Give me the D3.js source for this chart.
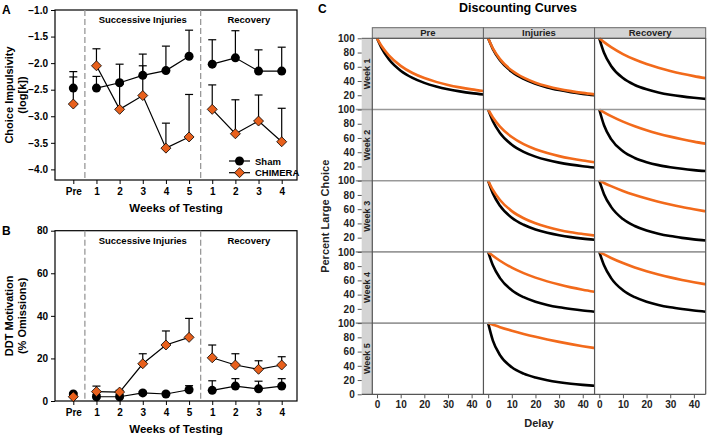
<!DOCTYPE html>
<html>
<head>
<meta charset="utf-8">
<script src="https://cdn.jsdelivr.net/npm/d3@7"></script>
<style>
  body { margin: 0; background: #fff; }
  svg { font-family: "Liberation Sans", Arial, sans-serif; font-weight: bold; }
</style>
</head>
<body>
<svg width="708" height="437"></svg>
<script>
// weeks of testing (pre, 5 injury weeks, 4 recovery weeks)
var weekLabels = ['Pre', '1', '2', '3', '4', '5', '1', '2', '3', '4'];
var weekGroups = [[0], [1, 2, 3, 4, 5], [6, 7, 8, 9]];

// panel A: choice impulsivity, log(k), mean and top of error bar
var shamImp = [-2.47, -2.47, -2.37, -2.23, -2.14, -1.87, -2.02, -1.90, -2.15, -2.15];
var shamImpHi = [-2.16, -2.25, -2.02, -1.83, -1.68, -1.38, -1.56, -1.39, -1.75, -1.70];
var chimImp = [-2.77, -2.05, -2.87, -2.61, -3.60, -3.39, -2.87, -3.33, -3.09, -3.48];
var chimImpHi = [-2.26, -1.73, -2.40, -2.05, -3.13, -2.59, -2.41, -2.69, -2.60, -2.85];
var impTicks = [-4.0, -3.5, -3.0, -2.5, -2.0, -1.5, -1.0];

// panel B: % omissions
var shamMot = [3.3, 2.0, 2.0, 3.8, 3.3, 5.3, 5.0, 7.0, 5.7, 7.0];
var shamMotHi = [3.8, 3.0, 3.0, 4.5, 4.0, 7.2, 9.5, 10.5, 9.3, 10.5];
var chimMot = [2.0, 4.4, 4.2, 17.5, 26.3, 29.9, 20.3, 16.9, 14.9, 16.9];
var chimMotHi = [2.5, 7.0, 5.0, 22.2, 32.9, 38.8, 26.3, 22.2, 18.9, 20.8];
var motTicks = [0, 20, 40, 60, 80];

// panel C: discounting curves (percent large choice vs delay)
var cCols = ['Pre', 'Injuries', 'Recovery'];
var cRows = ['Week 1', 'Week 2', 'Week 3', 'Week 4', 'Week 5'];
var delays = [0, 2, 5, 10, 15, 20, 25, 30, 35, 40, 45];
var cellRow = [0, 0, 0, 1, 1, 2, 2, 3, 3, 4];
var cellCol = [0, 1, 2, 1, 2, 1, 2, 1, 2, 1];
var shamCurves = [
  [100, 85.7, 70.5, 54.5, 44.4, 37.4, 32.4, 28.5, 25.5, 23.0, 21.0],
  [100, 84.9, 69.2, 52.9, 42.9, 36.0, 31.0, 27.3, 24.3, 21.9, 20.0],
  [100, 79.7, 61.2, 44.1, 34.4, 28.3, 24.0, 20.8, 18.4, 16.5, 14.9],
  [100, 83.6, 67.1, 50.5, 40.5, 33.8, 29.0, 25.4, 22.6, 20.3, 18.5],
  [100, 77.8, 58.4, 41.3, 31.9, 26.0, 21.9, 19.0, 16.7, 14.9, 13.5],
  [100, 82.2, 64.8, 48.0, 38.1, 31.5, 26.9, 23.5, 20.8, 18.7, 17.0],
  [100, 81.1, 63.2, 46.1, 36.4, 30.0, 25.5, 22.2, 19.7, 17.6, 16.0],
  [100, 81.1, 63.2, 46.1, 36.4, 30.0, 25.5, 22.2, 19.7, 17.6, 16.0],
  [100, 81.1, 63.2, 46.1, 36.4, 30.0, 25.5, 22.2, 19.7, 17.6, 16.0],
  [100, 75.4, 55.1, 38.0, 29.0, 23.5, 19.7, 17.0, 14.9, 13.3, 12.0]
];
var chimCurves = [
  [100, 88.8, 76.0, 61.3, 51.3, 44.2, 38.8, 34.5, 31.1, 28.3, 26.0],
  [100, 85.8, 70.7, 54.8, 44.7, 37.7, 32.7, 28.8, 25.8, 23.3, 21.2],
  [100, 94.6, 87.6, 77.9, 70.2, 63.9, 58.6, 54.1, 50.2, 46.9, 44.0],
  [100, 88.8, 76.0, 61.3, 51.3, 44.2, 38.8, 34.5, 31.1, 28.3, 26.0],
  [100, 96.1, 90.7, 83.0, 76.5, 70.9, 66.1, 61.9, 58.2, 54.9, 52.0],
  [100, 87.0, 72.9, 57.3, 47.3, 40.2, 35.0, 30.9, 27.7, 25.2, 23.0],
  [100, 96.8, 92.3, 85.6, 79.9, 74.9, 70.5, 66.5, 63.0, 59.9, 57.0],
  [100, 94.6, 87.6, 77.9, 70.2, 63.9, 58.6, 54.1, 50.2, 46.9, 44.0],
  [100, 96.4, 91.5, 84.4, 78.2, 72.9, 68.3, 64.2, 60.6, 57.4, 54.5],
  [100, 97.7, 94.3, 89.3, 84.8, 80.7, 77.0, 73.6, 70.5, 67.6, 65.0]
];
var delayTicks = [0, 10, 20, 30, 40];
var pctTicks = [20, 40, 60, 80, 100];

var ORANGE = '#f26a1b';
var DIAMOND = '#e8601c';

var svg = d3.select('svg');

// ---------- panels A and B ----------
var frameL = 55, frameR = 297;
var x = d3.scalePoint().domain(d3.range(10)).range([73.3, 281.7]);
var diamondPath = 'M0,-5L5,0L0,5L-5,0Z';

function drawWeeksPanel(o) {
  var g = svg.append('g');
  var y = d3.scaleLinear().domain(o.domain).range([o.bottom, o.top]);

  g.append('g')
    .attr('transform', `translate(${frameL},0)`)
    .call(d3.axisLeft(y).tickValues(o.ticks).tickSize(4).tickPadding(3).tickFormat(o.fmt))
    .call(a => a.select('.domain').remove())
    .call(a => a.selectAll('text').attr('font-size', 10).attr('font-weight', 'bold'));

  g.append('g')
    .attr('transform', `translate(0,${o.bottom})`)
    .call(d3.axisBottom(x).tickSize(4).tickPadding(4).tickFormat(i => weekLabels[i]))
    .call(a => a.select('.domain').remove())
    .call(a => a.selectAll('text').attr('font-size', 10).attr('font-weight', 'bold'));

  g.append('rect')
    .attr('x', frameL).attr('y', o.top)
    .attr('width', frameR - frameL).attr('height', o.bottom - o.top)
    .attr('fill', 'none').attr('stroke', '#000').attr('stroke-width', 1.2);

  var splits = [(x(0) + x(1)) / 2, (x(5) + x(6)) / 2];
  g.selectAll('.split').data(splits).enter().append('line')
    .attr('x1', d => d).attr('x2', d => d)
    .attr('y1', o.top).attr('y2', o.bottom)
    .attr('stroke', '#999').attr('stroke-width', 1.3).attr('stroke-dasharray', '6,3');

  g.append('text').attr('x', (splits[0] + splits[1]) / 2).attr('y', o.top + 13)
    .attr('text-anchor', 'middle').attr('font-size', 9.5).text('Successive Injuries');
  g.append('text').attr('x', (splits[1] + frameR) / 2).attr('y', o.top + 13)
    .attr('text-anchor', 'middle').attr('font-size', 9.5).text('Recovery');

  var line = d3.line().x(i => x(i));

  function series(vals, hi, isSham) {
    var s = g.append('g');
    weekGroups.forEach(grp => {
      s.append('path')
        .attr('d', line.y(i => y(vals[i]))(grp))
        .attr('fill', 'none').attr('stroke', '#000').attr('stroke-width', 1.2);
    });
    var eb = s.selectAll('.eb').data(d3.range(10)).enter().append('g');
    eb.append('line')
      .attr('x1', i => x(i)).attr('x2', i => x(i))
      .attr('y1', i => y(vals[i])).attr('y2', i => y(hi[i]))
      .attr('stroke', '#000').attr('stroke-width', 1.2);
    eb.append('line')
      .attr('x1', i => x(i) - 4).attr('x2', i => x(i) + 4)
      .attr('y1', i => y(hi[i])).attr('y2', i => y(hi[i]))
      .attr('stroke', '#000').attr('stroke-width', 1.2);
    if (isSham) {
      s.selectAll('circle').data(d3.range(10)).enter().append('circle')
        .attr('cx', i => x(i)).attr('cy', i => y(vals[i])).attr('r', 4.5)
        .attr('fill', '#000');
    } else {
      s.selectAll('.dm').data(d3.range(10)).enter().append('path')
        .attr('d', diamondPath)
        .attr('transform', i => `translate(${x(i)},${y(vals[i])})`)
        .attr('fill', DIAMOND).attr('stroke', '#000').attr('stroke-width', 0.8);
    }
  }
  series(o.sham, o.shamHi, true);
  series(o.chim, o.chimHi, false);

  var mid = (o.top + o.bottom) / 2;
  g.append('text').attr('transform', `translate(13,${mid}) rotate(-90)`)
    .attr('text-anchor', 'middle').attr('font-size', 11).text(o.title[0]);
  g.append('text').attr('transform', `translate(26,${mid}) rotate(-90)`)
    .attr('text-anchor', 'middle').attr('font-size', 11).text(o.title[1]);

  g.append('text').attr('x', (frameL + frameR) / 2).attr('y', o.bottom + 32)
    .attr('text-anchor', 'middle').attr('font-size', 11.5).text('Weeks of Testing');

  g.append('text').attr('x', 2).attr('y', o.top + 4).attr('font-size', 12).text(o.label);
  return g;
}

var gA = drawWeeksPanel({
  top: 10, bottom: 180, domain: [-4.2, -1.0], ticks: impTicks, fmt: d3.format('.1f'),
  sham: shamImp, shamHi: shamImpHi, chim: chimImp, chimHi: chimImpHi,
  title: ['Choice Impulsivity', '(log[k])'], label: 'A'
});

drawWeeksPanel({
  top: 230.7, bottom: 401, domain: [0, 80], ticks: motTicks, fmt: d3.format('d'),
  sham: shamMot, shamHi: shamMotHi, chim: chimMot, chimHi: chimMotHi,
  title: ['DDT Motivation', '(% Omissions)'], label: 'B'
});

// legend in panel A
var legend = gA.append('g');
[['Sham', true], ['CHIMERA', false]].forEach((d, k) => {
  var ly = 161 + k * 11.7;
  legend.append('line').attr('x1', 229).attr('x2', 250).attr('y1', ly).attr('y2', ly)
    .attr('stroke', '#000').attr('stroke-width', 1.2);
  if (d[1]) {
    legend.append('circle').attr('cx', 239.5).attr('cy', ly).attr('r', 4.5).attr('fill', '#000');
  } else {
    legend.append('path').attr('d', diamondPath).attr('transform', `translate(239.5,${ly})`)
      .attr('fill', DIAMOND).attr('stroke', '#000').attr('stroke-width', 0.8);
  }
  legend.append('text').attr('x', 255).attr('y', ly + 3.5).attr('font-size', 9.5).text(d[0]);
});

// ---------- panel C ----------
var gC = svg.append('g');
var cLeft = 372.3, cRight = 705.7, cTop = 38.3, cBottom = 394.3, stripW = 10.6, headH = 10.6;
var colX = d3.scaleBand().domain(d3.range(3)).range([cLeft, cRight]);
var rowY = d3.scaleBand().domain(d3.range(5)).range([cTop, cBottom]);
var bw = colX.bandwidth(), bh = rowY.bandwidth();
var xd = d3.scaleLinear().domain([-2, 45]).range([0, bw]);
var yd = d3.scaleLinear().domain([0, 100]).range([bh, 0]);

gC.append('text').attr('x', 518).attr('y', 12).attr('text-anchor', 'middle')
  .attr('font-size', 12.5).text('Discounting Curves');
gC.append('text').attr('x', 318).attr('y', 13).attr('font-size', 12).text('C');

// header strip
gC.selectAll('.hdr').data(d3.range(3)).enter().append('rect')
  .attr('x', i => colX(i)).attr('y', cTop - headH).attr('width', bw).attr('height', headH)
  .attr('fill', '#d4d4d4').attr('stroke', '#666').attr('stroke-width', 1);
gC.selectAll('.hdrt').data(cCols).enter().append('text')
  .attr('x', (d, i) => colX(i) + bw / 2).attr('y', cTop - 2.3)
  .attr('text-anchor', 'middle').attr('font-size', 9.5).attr('fill', '#222').text(d => d);

// left strip
gC.selectAll('.rs').data(d3.range(5)).enter().append('rect')
  .attr('x', cLeft - stripW).attr('y', i => rowY(i)).attr('width', stripW).attr('height', bh)
  .attr('fill', '#d4d4d4');
gC.selectAll('.rst').data(cRows).enter().append('text')
  .attr('transform', (d, i) => `translate(${cLeft - 2.6},${rowY(i) + bh / 2}) rotate(-90)`)
  .attr('text-anchor', 'middle').attr('font-size', 9).attr('fill', '#222').text(d => d);

// curves
var curve = d3.line().x((v, j) => xd(delays[j])).y(v => yd(v)).curve(d3.curveMonotoneX);
cellRow.forEach((r, k) => {
  var cell = gC.append('g').attr('transform', `translate(${colX(cellCol[k])},${rowY(r)})`);
  cell.append('path').attr('d', curve(shamCurves[k]))
    .attr('fill', 'none').attr('stroke', '#000').attr('stroke-width', 2.6);
  cell.append('path').attr('d', curve(chimCurves[k]))
    .attr('fill', 'none').attr('stroke', ORANGE).attr('stroke-width', 2.6);
});

// grid lines
gC.selectAll('.hl').data(d3.range(1, 5)).enter().append('line')
  .attr('x1', cLeft - stripW - 6).attr('x2', cRight)
  .attr('y1', i => rowY(i)).attr('y2', i => rowY(i))
  .attr('stroke', '#999').attr('stroke-width', 1.6);
gC.selectAll('.vl').data(d3.range(4)).enter().append('line')
  .attr('x1', i => cLeft + i * bw).attr('x2', i => cLeft + i * bw)
  .attr('y1', cTop).attr('y2', cBottom)
  .attr('stroke', '#555').attr('stroke-width', 1.2);
gC.append('line').attr('x1', cLeft - stripW).attr('x2', cRight)
  .attr('y1', cBottom).attr('y2', cBottom).attr('stroke', '#555').attr('stroke-width', 1.2);
gC.append('line').attr('x1', cLeft - stripW).attr('x2', cRight)
  .attr('y1', cTop).attr('y2', cTop).attr('stroke', '#555').attr('stroke-width', 1);

// y axes per row
d3.range(5).forEach(r => {
  var yr = d3.scaleLinear().domain([0, 100]).range([rowY(r) + bh, rowY(r)]);
  gC.append('g')
    .attr('transform', `translate(${cLeft - stripW},0)`)
    .call(d3.axisLeft(yr).tickValues(r === 4 ? [0].concat(pctTicks) : pctTicks).tickSize(4).tickPadding(3))
    .call(a => a.select('.domain').remove())
    .call(a => a.selectAll('line').attr('stroke', '#555'))
    .call(a => a.selectAll('text').attr('font-size', 10).attr('font-weight', 'bold').attr('fill', '#222'));
});

// x axes per column
d3.range(3).forEach(c => {
  var xc = d3.scaleLinear().domain([-2, 45]).range([colX(c), colX(c) + bw]);
  gC.append('g')
    .attr('transform', `translate(0,${cBottom})`)
    .call(d3.axisBottom(xc).tickValues(delayTicks).tickSize(4).tickPadding(3))
    .call(a => a.select('.domain').remove())
    .call(a => a.selectAll('line').attr('stroke', '#555'))
    .call(a => a.selectAll('text').attr('font-size', 10).attr('font-weight', 'bold').attr('fill', '#222'));
});

gC.append('text').attr('x', (cLeft + cRight) / 2).attr('y', 427).attr('text-anchor', 'middle')
  .attr('font-size', 11).attr('fill', '#222').text('Delay');
gC.append('text').attr('transform', `translate(329,${(cTop + cBottom) / 2}) rotate(-90)`)
  .attr('text-anchor', 'middle').attr('font-size', 11).attr('fill', '#222').text('Percent Large Choice');
</script>
</body>
</html>
